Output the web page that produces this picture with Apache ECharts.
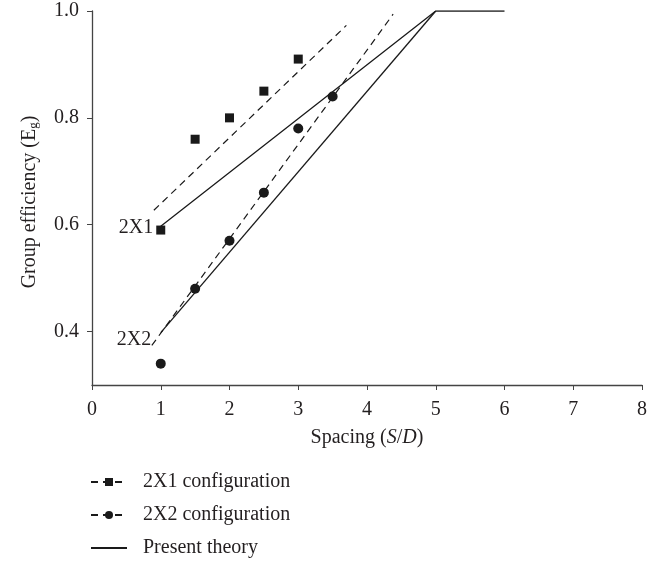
<!DOCTYPE html>
<html>
<head>
<meta charset="utf-8">
<script src="https://cdn.jsdelivr.net/npm/echarts@6/dist/echarts.min.js"></script>
<style>html,body{margin:0;padding:0;background:#fff}#c{width:662px;height:563px}</style>
</head>
<body>
<div id="c"></div>
<script>
// Measured points
const sq2x1 = [[1, 0.59], [1.5, 0.76], [2, 0.80], [2.5, 0.85], [3, 0.91]];
const ci2x2 = [[1, 0.34], [1.5, 0.48], [2, 0.57], [2.5, 0.66], [3, 0.78], [3.5, 0.84]];
// Dashed fit lines (endpoints)
const fit2x1 = [[0.9, 0.627], [3.7, 0.973]];
const fit2x2 = [[0.87, 0.374], [4.38, 0.994]];
// Present theory
const theory2x1 = [[1, 0.597], [5, 1.0], [6, 1.0]];
const theory2x2 = [[1, 0.398], [5, 1.0]];
const lineLabels = ['2X1', '2X2'];
const yTicks = [0.4, 0.6, 0.8, 1.0];
const xTicks = [0, 1, 2, 3, 4, 5, 6, 7, 8];
const names = ['2X1 configuration', '2X2 configuration', 'Present theory'];

const FONT = 'Liberation Serif';
const FS = 20;
const TXT = '#231f20';
const INK = '#1a1a1a';
const chart = echarts.init(document.getElementById('c'), null, {renderer: 'canvas'});
const dash = [7, 5];

chart.setOption({
  backgroundColor: '#fff',
  animation: false,
  textStyle: {fontFamily: FONT, color: TXT},
  grid: {left: 92, right: 20, top: 11, bottom: 178},
  legend: {
    orient: 'vertical', left: 90, top: 472, padding: 0,
    itemWidth: 36, itemHeight: 10, itemGap: 13,
    height: 120,
    data: [names[0], names[1], {name: names[2], itemStyle: {opacity: 0}}],
    textStyle: {fontFamily: FONT, fontSize: FS, color: TXT, lineHeight: 20, padding: [0, 0, 0, 11]},
    selectedMode: false
  },
  xAxis: {
    type: 'value', min: 0, max: 8, interval: 1,
    name: 'Spacing ({i|S}/{i|D})',
    nameLocation: 'middle', nameGap: 43,
    nameTextStyle: {fontFamily: FONT, fontSize: FS, color: TXT,
      rich: {i: {fontFamily: FONT, fontSize: FS, fontStyle: 'italic', color: TXT}}},
    axisLine: {lineStyle: {color: '#444', width: 1.3}},
    axisTick: {show: true, length: 5, inside: false, lineStyle: {color: '#444'}},
    axisLabel: {fontFamily: FONT, fontSize: FS, color: TXT, margin: 15,
      customValues: xTicks, formatter: v => String(v)},
    splitLine: {show: false}
  },
  yAxis: {
    type: 'value', min: 0.3, max: 1.0,
    name: 'Group efficiency (E{s|g})',
    nameLocation: 'middle', nameGap: 52, nameRotate: 90,
    nameTextStyle: {fontFamily: FONT, fontSize: FS, color: TXT, padding: [0, 8, 0, 0],
      rich: {s: {fontFamily: FONT, fontSize: 13, color: TXT, verticalAlign: 'bottom', padding: [8, 0, 0, 0]}}},
    axisLine: {show: true, lineStyle: {color: '#444', width: 1.3}},
    axisTick: {show: true, length: 5, customValues: yTicks, lineStyle: {color: '#444'}},
    axisLabel: {fontFamily: FONT, fontSize: FS, color: TXT, margin: 13,
      customValues: yTicks, formatter: v => v.toFixed(1)},
    splitLine: {show: false}
  },
  series: [
    {name: names[0], type: 'line', data: fit2x1, symbol: 'rect', symbolSize: 8, showSymbol: false,
      lineStyle: {color: INK, width: 1.2, type: dash}, itemStyle: {color: INK}, z: 2},
    {name: names[0], type: 'scatter', data: sq2x1, symbol: 'rect', symbolSize: 9,
      itemStyle: {color: INK, opacity: 1}, z: 4},
    {name: names[1], type: 'line', data: fit2x2, symbol: 'circle', symbolSize: 8, showSymbol: false,
      lineStyle: {color: INK, width: 1.2, type: dash}, itemStyle: {color: INK}, z: 2},
    {name: names[1], type: 'scatter', data: ci2x2, symbol: 'circle', symbolSize: 10,
      itemStyle: {color: INK, opacity: 1}, z: 4},
    {name: names[2], type: 'line', symbol: 'circle', showSymbol: false, data: theory2x1,
      lineStyle: {color: INK, width: 1.3}, itemStyle: {color: INK}, z: 3},
    {name: names[2], type: 'line', symbol: 'circle', showSymbol: false, data: theory2x2,
      lineStyle: {color: INK, width: 1.3}, itemStyle: {color: INK}, z: 3},
    {name: 'line labels', type: 'scatter', symbolSize: 1, itemStyle: {color: 'rgba(0,0,0,0)', opacity: 1}, silent: true,
      data: [
        {value: theory2x1[0], label: {show: true, formatter: lineLabels[0], position: 'left', distance: 7, offset: [0, 1]}},
        {value: theory2x2[0], label: {show: true, formatter: lineLabels[1], position: 'left', distance: 9, offset: [0, 7]}}
      ],
      label: {show: true, fontFamily: FONT, fontSize: FS, color: TXT}, z: 5}
  ]
});
</script>
</body>
</html>
